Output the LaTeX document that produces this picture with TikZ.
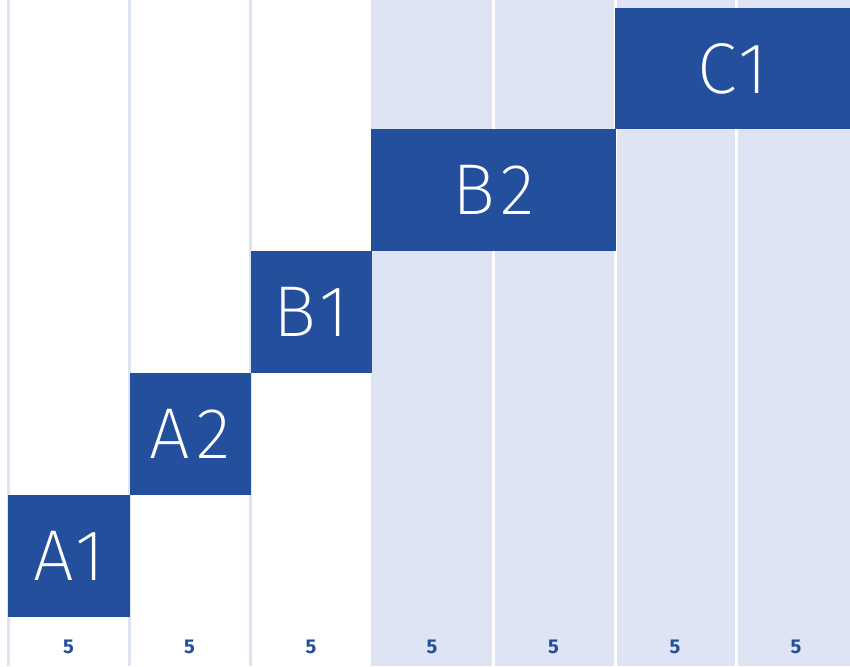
\documentclass[tikz,border=0pt]{standalone}
\usepackage{fontspec}
\newfontfamily\lightfont{Fira Sans ExtraLight}[LetterSpace=8]
\newfontfamily\semifont{Fira Sans Bold}
\definecolor{blk}{HTML}{244F9D}
\definecolor{pale}{HTML}{DEE4F3}
\begin{document}
\begin{tikzpicture}[x=1pt,y=-1pt,
  block/.style={fill=blk,text=white,anchor=north west,inner sep=0pt,minimum height=122pt,
    font=\lightfont\fontsize{72}{72}\selectfont},
  num/.style={text=blk,font=\semifont\fontsize{20}{20}\selectfont,inner sep=0pt},
  paleline/.style={draw=pale,line width=3pt},
  whiteline/.style={draw=white,line width=3pt}]
\useasboundingbox (0,0) rectangle (850,666);
\fill[pale] (370.5,0) rectangle (850,666);
\foreach \x in {8,129.5,250.5} \draw[paleline] (\x,0) -- (\x,666);
\foreach \x in {493.5,615,736} \draw[whiteline] (\x,0) -- (\x,666);
\node[block,minimum width=122pt] (a1) at (8,495) {A1};
\node[block,minimum width=121pt] (a2) at (129.5,373) {A2};
\node[block,minimum width=121pt] (b1) at (250.5,251) {B1};
\node[block,minimum width=244.5pt] (b2) at (371,129) {B2};
\node[block,minimum width=235pt,minimum height=121pt] (c1) at (615,8) {C1};
\foreach \x/\n in {68.5/1,189.5/2,311/3,432/4,553.5/5,675/6,796/7}
  \node[num] (n\n) at (\x,647) {5};
\end{tikzpicture}
\end{document}
